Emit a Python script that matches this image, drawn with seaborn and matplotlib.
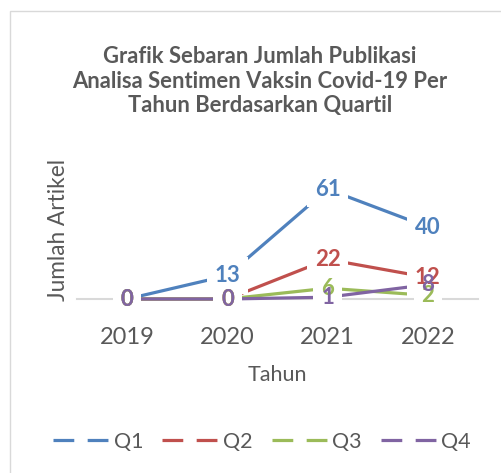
import pandas as pd
import seaborn as sns
import matplotlib.pyplot as plt
from matplotlib.lines import Line2D
from matplotlib.patches import Rectangle

# data
years = [2019, 2020, 2021, 2022]
q1 = [0, 13, 61, 40]
q2 = [0, 0, 22, 12]
q3 = [0, 0, 6, 2]
q4 = [0, 0, 1, 8]
series_names = ['Q1', 'Q2', 'Q3', 'Q4']
colors = {'Q1': '#4F81BD', 'Q2': '#C0504D', 'Q3': '#9BBB59', 'Q4': '#8064A2'}

TEXT = '#595959'

frames = []
for name, vals in zip(series_names, [q1, q2, q3, q4]):
    frames.append(pd.DataFrame({'Tahun': years, 'Jumlah': vals, 'Quartil': name}))
data = pd.concat(frames, ignore_index=True)

sns.set_theme(style='white')
plt.rcParams['font.family'] = ['Lato', 'DejaVu Sans']

W, H = 501, 473
fig = plt.figure(figsize=(W / 100, H / 100), dpi=100)
ax = fig.add_axes([77 / W, 174 / H, 401 / W, 126 / H])

sns.lineplot(data=data, x='Tahun', y='Jumlah', hue='Quartil', palette=colors,
             linewidth=2.3, legend=False, ax=ax, zorder=2)
for line in ax.lines:
    line.set_clip_on(False)
    line.set_solid_capstyle('butt')

# data labels: white boxes under every text so lines get gaps
for name in series_names:
    sub = data[data['Quartil'] == name]
    for x, y in zip(sub['Tahun'], sub['Jumlah']):
        ax.text(x, y, str(y), ha='center', va='center', fontsize=16,
                fontweight='bold', color='white', zorder=3,
                bbox=dict(boxstyle='square,pad=0.35', fc='white', ec='none'))
for name in series_names:
    sub = data[data['Quartil'] == name]
    for x, y in zip(sub['Tahun'], sub['Jumlah']):
        ax.text(x, y, str(y), ha='center', va='center', fontsize=16,
                fontweight='bold', color=colors[name], zorder=4)

ax.set_xlim(2018.5, 2022.5)
ax.set_ylim(0, 70)
ax.set_xticks(years)
ax.set_xticklabels([str(y) for y in years])
ax.set_yticks([])
ax.tick_params(axis='x', length=0, pad=20, labelsize=17, labelcolor=TEXT)
for side in ['top', 'right', 'left']:
    ax.spines[side].set_visible(False)
ax.spines['bottom'].set_color('#d9d9d9')
ax.spines['bottom'].set_linewidth(1.5)
ax.spines['bottom'].set_zorder(1)

ax.set_xlabel('Tahun', fontsize=15.5, color=TEXT)
ax.xaxis.label.set_va('center')
ax.xaxis.set_label_coords(0.499, -0.6)
ax.set_ylabel('Jumlah Artikel', fontsize=16.3, color=TEXT)
ax.yaxis.label.set_va('center')
ax.yaxis.label.set_ha('center')
ax.yaxis.set_label_coords(-0.045, 0.548)

fig.text(260 / W, 1 - 81 / H,
         'Grafik Sebaran Jumlah Publikasi\nAnalisa Sentimen Vaksin Covid-19 Per\nTahun Berdasarkan Quartil',
         ha='center', va='center', fontsize=15.8, fontweight='bold',
         color=TEXT, linespacing=1.22)

handles = [Line2D([0], [0], color=colors[n], lw=2.3, dashes=(6.5, 4.2),
                  dash_capstyle='butt') for n in series_names]
leg = fig.legend(handles, series_names, loc='center', ncol=4,
                 bbox_to_anchor=(262 / W, 1 - 442 / H), frameon=False,
                 fontsize=15.5, handlelength=2.6, handletextpad=0.2,
                 columnspacing=0.9)
for t in leg.get_texts():
    t.set_color(TEXT)

# chart border (cut at right and bottom)
fig.patches.append(Rectangle((9.5 / W, -0.1), 1.2, 1.1 - 11.5 / H,
                             transform=fig.transFigure, fill=False,
                             edgecolor='#d9d9d9', lw=1))

fig.savefig('out.png', dpi=100)
